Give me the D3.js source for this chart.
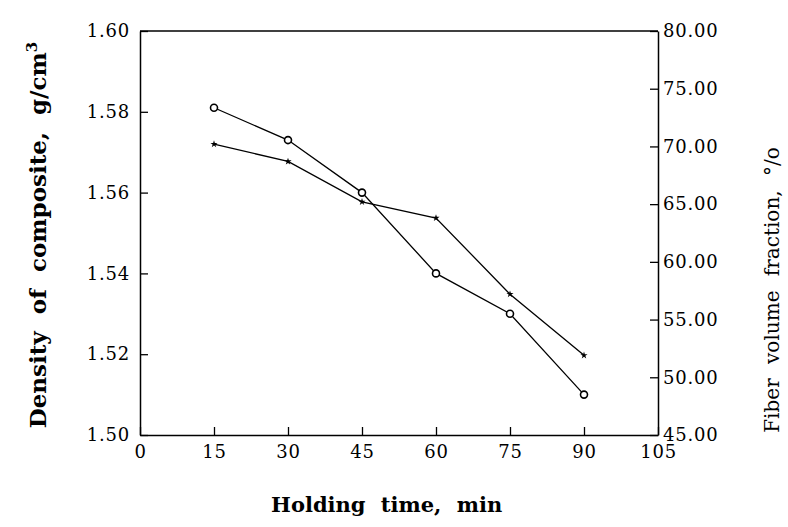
<!DOCTYPE html>
<html>
<head>
<meta charset="utf-8">
<script src="https://cdn.jsdelivr.net/npm/d3@7"></script>
<style>
  body { margin: 0; background: #fff; }
  svg text { font-family: "DejaVu Serif", "Liberation Serif", serif; fill: #000; }
</style>
</head>
<body>
<svg id="drawing_region"></svg>
<script>
// holding time, min
const times = [15, 30, 45, 60, 75, 90];
// density of composite, g/cm3 (left axis, open circles)
const density = [1.581, 1.573, 1.560, 1.540, 1.530, 1.510];
// fiber volume fraction, % (right axis, filled stars)
const fiberFraction = [70.2, 68.7, 65.2, 63.8, 57.2, 51.9];

const xTicks = [0, 15, 30, 45, 60, 75, 90, 105];
const leftTicks = [1.50, 1.52, 1.54, 1.56, 1.58, 1.60];
const rightTicks = [45, 50, 55, 60, 65, 70, 75, 80];

const config = {
    width: 788,
    height: 527,
    margin: {top: 31, right: 130, bottom: 92, left: 140}
};

const svg = d3.select('#drawing_region')
    .attr('width', config.width)
    .attr('height', config.height);

const inner_width = config.width - config.margin.left - config.margin.right;
const inner_height = config.height - config.margin.top - config.margin.bottom;

const chart = svg.append('g')
    .attr('transform', `translate(${config.margin.left}, ${config.margin.top})`);

const xscale = d3.scaleLinear().domain([0, 105]).range([0, inner_width]);
const yleft = d3.scaleLinear().domain([1.50, 1.60]).range([inner_height, 0]);
const yright = d3.scaleLinear().domain([45, 80]).range([inner_height, 0]);

// frame top line
chart.append('line')
    .attr('x1', 0).attr('x2', inner_width)
    .attr('y1', 0).attr('y2', 0)
    .attr('stroke', '#000').attr('stroke-width', 1.5);

const xaxis_group = chart.append('g')
    .attr('transform', `translate(0, ${inner_height})`)
    .call(d3.axisBottom(xscale).tickValues(xTicks).tickSize(-8).tickPadding(10).tickSizeOuter(0).tickFormat(d3.format('d')));

const yaxis_group = chart.append('g')
    .call(d3.axisLeft(yleft).tickValues(leftTicks).tickSize(-8).tickPadding(10).tickSizeOuter(0).tickFormat(d3.format('.2f')));

const y2axis_group = chart.append('g')
    .attr('transform', `translate(${inner_width}, 0)`)
    .call(d3.axisRight(yright).tickValues(rightTicks).tickSize(-8).tickPadding(5).tickSizeOuter(0).tickFormat(d3.format('.2f')));

[xaxis_group, yaxis_group, y2axis_group].forEach(g => {
    g.selectAll('path').attr('stroke', '#000').attr('stroke-width', 1.5);
    g.selectAll('line').attr('stroke', '#000').attr('stroke-width', 1.3);
    g.selectAll('text')
        .style('font-family', '"DejaVu Serif", serif')
        .style('font-size', '18px')
        .style('letter-spacing', '0.8px')
        .attr('fill', '#000');
});

// lines
const densityLine = d3.line()
    .x((d, i) => xscale(times[i]))
    .y(d => yleft(d));

const fiberLine = d3.line()
    .x((d, i) => xscale(times[i]))
    .y(d => yright(d));

chart.append('path')
    .datum(density)
    .attr('d', densityLine)
    .attr('fill', 'none')
    .attr('stroke', '#000')
    .attr('stroke-width', 1.3);

chart.append('path')
    .datum(fiberFraction)
    .attr('d', fiberLine)
    .attr('fill', 'none')
    .attr('stroke', '#000')
    .attr('stroke-width', 1.3);

chart.selectAll('.circ')
    .data(density)
    .enter()
    .append('circle')
    .attr('class', 'circ')
    .attr('cx', (d, i) => xscale(times[i]))
    .attr('cy', d => yleft(d))
    .attr('r', 3.5)
    .attr('fill', '#fff')
    .attr('stroke', '#000')
    .attr('stroke-width', 1.6);

chart.selectAll('.star')
    .data(fiberFraction)
    .enter()
    .append('path')
    .attr('class', 'star')
    .attr('transform', (d, i) => `translate(${xscale(times[i])}, ${yright(d)})`)
    .attr('d', d3.symbol().type(d3.symbolStar).size(16))
    .attr('fill', '#000');

// axis titles
svg.append('text')
    .attr('transform', `translate(46, ${config.margin.top + inner_height / 2 + 2}) rotate(-90)`)
    .attr('text-anchor', 'middle')
    .style('font-size', '23px')
    .style('font-weight', 'bold')
    .style('word-spacing', '9px')
    .text('Density of composite, g/cm')
    .append('tspan')
    .attr('dy', '-0.6em')
    .style('font-size', '15px')
    .text('3');

svg.append('text')
    .attr('transform', `translate(779, ${config.margin.top + 259}) rotate(-90)`)
    .attr('text-anchor', 'middle')
    .style('font-size', '20px')
    .style('word-spacing', '8px')
    .text('Fiber volume fraction, °/o');

svg.append('text')
    .attr('x', config.margin.left + xscale(50))
    .attr('y', 512)
    .attr('text-anchor', 'middle')
    .style('font-size', '21px')
    .style('font-weight', 'bold')
    .style('word-spacing', '8px')
    .text('Holding time, min');
</script>
</body>
</html>
